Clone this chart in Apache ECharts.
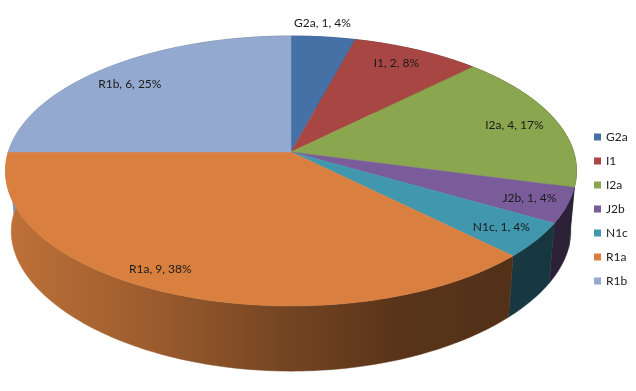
<!DOCTYPE html>
<html>
<head>
<meta charset="utf-8">
<style>html,body{margin:0;padding:0;background:#fff}#c{width:636px;height:391px}</style>
<script src="https://cdn.jsdelivr.net/npm/echarts@6/dist/echarts.min.js"></script>
</head>
<body>
<div id="c"></div>
<script>
const categories = ['G2a','I1','I2a','J2b','N1c','R1a','R1b'];
const values = [1,2,4,1,1,9,6];
const colors = ['#4571A6','#A84644','#8AA64E','#7A5C9A','#4097AE','#D98040','#93A9CF'];

// Perspective projection of the disc
const CX = 291, APEX_Y = 152;
const TOP = {b:282.7, a:132.3, kx:0.1407, ky:0.1407, c:152};
const BOTTOM = {b:277, a:126.5, kx:0.1407, ky:0.2, c:213};
// label anchors on the disc: radius fraction and angle nudge (degrees)
const labelRadius = [1.14,0.85,0.84,0.87,0.868,0.89,0.827];
const labelNudge = [-1,-1,0.6,0,0,5,-3];
// wall lighting by canvas x
const wallShade = [[6,0.88],[150,0.72],[290,0.53],[400,0.41],[510,0.38],[577,0.35]];

const total = values.reduce((s,v)=>s+v,0);
const starts = [];
values.reduce((s,v,i)=>{starts[i]=s;return s+v;},0);

function project(f,r,deg){
  const t=deg*Math.PI/180, u=r*Math.sin(t), v=r*Math.cos(t);
  return [CX+f.b*u/(1+f.kx*v), f.c-f.a*v/(1+f.ky*v)];
}
function arc(f,from,to){
  const pts=[], n=Math.max(2,Math.ceil(Math.abs(to-from)));
  for(let i=0;i<=n;i++) pts.push(project(f,1,from+(to-from)*i/n));
  return pts;
}
function wallFill(hex){
  const n=parseInt(hex.slice(1),16), r=n>>16, g=(n>>8)&255, b=n&255;
  const stops=wallShade.map(([x,s])=>({offset:(x-6)/571,
    color:`rgb(${Math.round(r*s)},${Math.round(g*s)},${Math.round(b*s)})`}));
  return new echarts.graphic.LinearGradient(6,0,577,0,stops,true);
}
function renderSlice(params){
  const i=params.seriesIndex, from=starts[i]/total*360, to=(starts[i]+values[i])/total*360;
  const rimTop=arc(TOP,from,to), rimBot=arc(BOTTOM,from,to).reverse();
  const mid=(from+to)/2+labelNudge[i], pos=project(TOP,labelRadius[i],mid);
  const pct=Math.round(values[i]/total*100);
  const wf=wallFill(colors[i]);
  return {type:'group',children:[
    {type:'polygon',z2:1,shape:{points:rimTop.concat(rimBot)},style:{fill:wf,stroke:wf,lineWidth:0.5}},
    {type:'polygon',z2:2,shape:{points:[[CX,APEX_Y]].concat(rimTop)},style:{fill:colors[i],stroke:colors[i],lineWidth:0.5}},
    {type:'text',z2:3,style:{x:pos[0],y:pos[1],text:`${categories[i]}, ${values[i]}, ${pct}%`,
      align:'center',verticalAlign:'middle',fill:'#1a1a1a',font:'12px Lato'}}
  ]};
}
const chart=echarts.init(document.getElementById('c'),null,{renderer:'canvas'});
chart.setOption({
  animation:false,
  backgroundColor:'#fff',
  legend:{orient:'vertical',left:589,top:126,icon:'rect',itemWidth:7,itemHeight:7,itemGap:12,
    data:categories,selectedMode:false,
    textStyle:{fontFamily:'Lato',fontSize:12,color:'#222'}},
  series:categories.map((name,i)=>({
    type:'custom',name,coordinateSystem:'none',silent:true,
    itemStyle:{color:colors[i]},
    data:[values[i]],renderItem:renderSlice
  }))
});
</script>
</body>
</html>
